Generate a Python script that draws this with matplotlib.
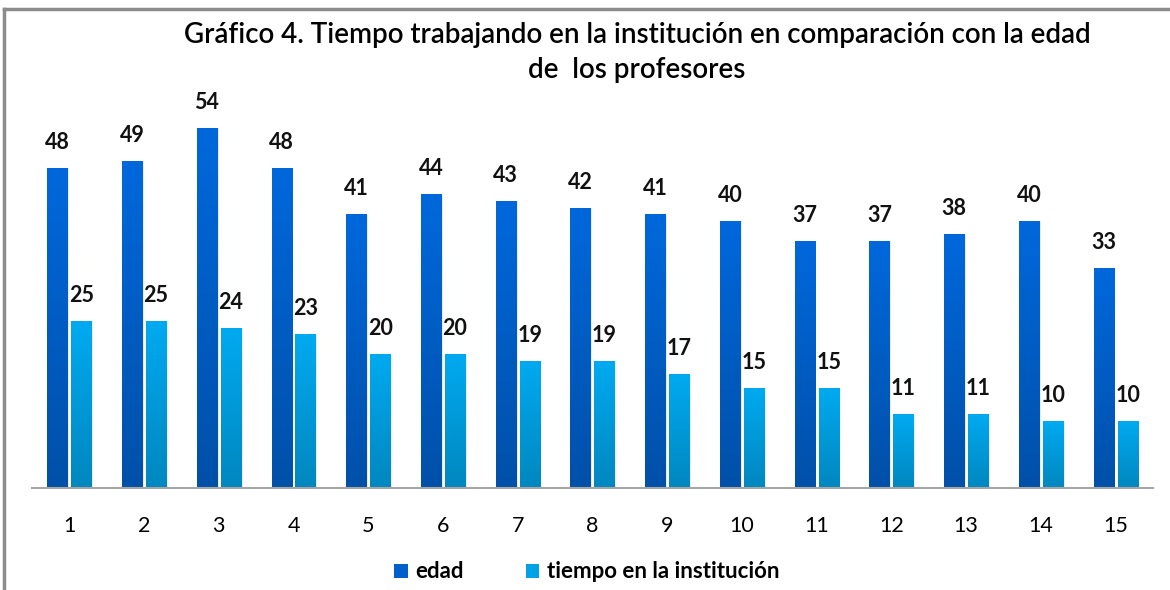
import matplotlib.pyplot as plt
import numpy as np
from matplotlib.colors import LinearSegmentedColormap
from matplotlib.patches import Patch
from matplotlib.lines import Line2D

plt.rcParams['font.family'] = ['Lato', 'DejaVu Sans']

profesores = [str(i) for i in range(1, 16)]
edad = [48, 49, 54, 48, 41, 44, 43, 42, 41, 40, 37, 37, 38, 40, 33]
tiempo = [25, 25, 24, 23, 20, 20, 19, 19, 17, 15, 15, 11, 11, 10, 10]

fig = plt.figure(figsize=(11.7, 5.9), dpi=100)
ax = fig.add_axes([32 / 1170, 1 - 488 / 590, 1121 / 1170, 400 / 590])

x = np.arange(len(profesores))
ancho = 0.27
desp = 0.16

cmap_edad = LinearSegmentedColormap.from_list("e", ["#0050a8", "#0068dc"])
cmap_tiempo = LinearSegmentedColormap.from_list("t", ["#0087bf", "#00aaf0"])
grad = np.linspace(0, 1, 256).reshape(-1, 1)

b1 = ax.bar(x - desp, edad, ancho, color="#005fc8", zorder=2)
b2 = ax.bar(x + desp, tiempo, ancho, color="#0099d8", zorder=2)

for barras, cm in ((b1, cmap_edad), (b2, cmap_tiempo)):
    for r in barras:
        x0, w, h = r.get_x(), r.get_width(), r.get_height()
        # sombra suave
        ax.bar(x0 + w / 2 + 0.012, h, w + 0.02, bottom=0, color="#000000",
               alpha=0.08, zorder=1)
        ax.imshow(grad, extent=(x0, x0 + w, 0, h), origin="lower", cmap=cm,
                  aspect="auto", zorder=3)

for barras, valores in ((b1, edad), (b2, tiempo)):
    for r, v in zip(barras, valores):
        ax.annotate(str(v), (r.get_x() + r.get_width() / 2, v),
                    xytext=(0, 11), textcoords="offset points", ha="center",
                    va="bottom", fontsize=15.5, fontweight="bold",
                    color="#111111")

ax.set_xlim(-0.5, len(profesores) - 0.5)
ax.set_ylim(0, 60)
ax.set_xticks(x)
ax.set_xticklabels(profesores, fontsize=15.5)
ax.tick_params(axis="x", length=0, pad=20)
ax.set_yticks([])
for s in ("top", "right", "left"):
    ax.spines[s].set_visible(False)
ax.spines["bottom"].set_color("#a6a6a6")
ax.spines["bottom"].set_linewidth(1.5)
ax.spines["bottom"].set_zorder(4)

fig.text(637 / 1170, 1 - 35 / 590,
         "Gráfico 4. Tiempo trabajando en la institución en comparación con la edad",
         ha="center", va="center", fontsize=20, fontweight="semibold")
fig.text(637 / 1170, 1 - 70 / 590, "de  los profesores",
         ha="center", va="center", fontsize=20, fontweight="semibold")

handles = [Patch(facecolor="#005fc8"), Patch(facecolor="#00a2e6")]
fig.legend(handles, ["edad", "tiempo en la institución"],
           loc="center", bbox_to_anchor=(587 / 1170, 1 - 572 / 590),
           ncol=2, frameon=False, prop={"size": 16, "weight": "bold"},
           handlelength=0.6, handleheight=0.6, columnspacing=2.8,
           handletextpad=0.35)

# marco del gráfico (arriba e izquierda)
fig.add_artist(Line2D([4 / 1170, 1], [1 - 8.5 / 590, 1 - 8.5 / 590],
                      transform=fig.transFigure, color="#8c8c8c", lw=2.5))
fig.add_artist(Line2D([4 / 1170, 4 / 1170], [0, 1 - 8.5 / 590],
                      transform=fig.transFigure, color="#8c8c8c", lw=2.5))

fig.savefig("out.png", dpi=100)
